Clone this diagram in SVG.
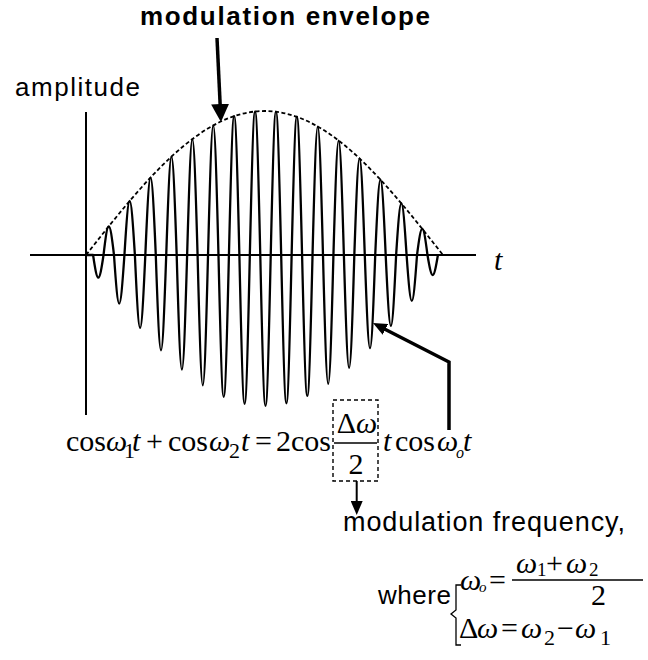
<svg xmlns="http://www.w3.org/2000/svg" width="648" height="660" viewBox="0 0 648 660">
<style>
.ax{stroke:#000;stroke-width:2;fill:none}
.wave{stroke:#000;stroke-width:2.3;fill:none;stroke-linejoin:round}
.env{stroke:#000;stroke-width:1.8;stroke-dasharray:4 2.5;fill:none}
.arr{stroke:#000;fill:none;stroke-linejoin:miter}
.box{stroke:#000;stroke-width:1.4;stroke-dasharray:4 3;fill:none}
.thin{stroke:#000;stroke-width:1.3;fill:none}
.sans{font-family:"Liberation Sans",Arial,sans-serif;fill:#000}
.serif{font-family:"Liberation Serif","Times New Roman",serif;font-size:30px;fill:#000}
.it{font-style:italic}
.sub{font-size:22px}
</style>
<defs>
<marker id="headL" markerUnits="userSpaceOnUse" markerWidth="18" markerHeight="18" refX="8" refY="9" orient="auto"><path d="M0,0 L18,9 L0,18 z" fill="#000"/></marker>
<marker id="headS" markerUnits="userSpaceOnUse" markerWidth="14" markerHeight="12" refX="6" refY="6" orient="auto"><path d="M0,0 L14,6 L0,12 z" fill="#000"/></marker>
</defs>
<rect width="648" height="660" fill="#fff"/>
<g id="axes">
<line class="ax" x1="30" y1="255" x2="476" y2="255"/>
<line class="ax" x1="86" y1="112" x2="86" y2="415"/>
</g>
<g id="waveform">
<path class="wave" d="M86,255 L93.08,255 c4.43,30.1 6.02,30.1 10.45,0 c4.43,-38.1 6.02,-38.1 10.45,0 c4.43,64.7 6.02,64.7 10.45,0 c4.43,-72 6.02,-72 10.45,0 c4.43,97.3 6.02,97.3 10.45,0 c4.43,-103.3 6.02,-103.3 10.45,0 c4.43,127.1 6.02,127.1 10.45,0 c4.43,-131.2 6.02,-131.2 10.45,0 c4.43,152.8 6.02,152.8 10.45,0 c4.43,-154.5 6.02,-154.5 10.45,0 c4.43,173.7 6.02,173.7 10.45,0 c4.43,-172.8 6.02,-172.8 10.45,0 c4.43,189.1 6.02,189.1 10.45,0 c4.43,-185.2 6.02,-185.2 10.45,0 c4.43,198.4 6.02,198.4 10.45,0 c4.43,-191.3 6.02,-191.3 10.45,0 c4.43,201.3 6.02,201.3 10.45,0 c4.43,-191.1 6.02,-191.1 10.45,0 c4.43,197.7 6.02,197.7 10.45,0 c4.43,-184.3 6.02,-184.3 10.45,0 c4.43,187.9 6.02,187.9 10.45,0 c4.43,-171.2 6.02,-171.2 10.45,0 c4.43,171.9 6.02,171.9 10.45,0 c4.43,-152.5 6.02,-152.5 10.45,0 c4.43,150.4 6.02,150.4 10.45,0 c4.43,-128.7 6.02,-128.7 10.45,0 c4.43,124.3 6.02,124.3 10.45,0 c4.43,-100.4 6.02,-100.4 10.45,0 c4.43,94.4 6.02,94.4 10.45,0 c4.43,-68.9 6.02,-68.9 10.45,0 c4.43,61.3 6.02,61.3 10.45,0 c4.43,-34.8 6.02,-34.8 10.45,0 c4.43,26.7 6.02,26.7 10.45,0"/>
</g>
<g id="envelope">
<path class="env" d="M86,255 C144.2,181.2 199.9,111 264.5,111 C329.1,111 384.8,181.2 443,255"/>
</g>
<g id="title">
<text class="sans" x="140" y="25" font-size="26" font-weight="bold" textLength="290" lengthAdjust="spacing">modulation envelope</text>
</g>
<g id="amplitude-label">
<text class="sans" x="15" y="96" font-size="26" textLength="125" lengthAdjust="spacing">amplitude</text>
</g>
<g id="t-label">
<text class="serif it" x="494" y="270" font-size="32">t</text>
</g>
<g id="formula">
<text class="serif" y="451"><tspan x="66">cos</tspan><tspan class="it" x="106">ω</tspan><tspan class="sub" x="124" dy="7">1</tspan><tspan class="it" x="132" dy="-7">t</tspan><tspan x="146">+</tspan><tspan x="168">cos</tspan><tspan class="it" x="209">ω</tspan><tspan class="sub" x="229" dy="7">2</tspan><tspan class="it" x="241" dy="-7">t</tspan><tspan x="255">=</tspan><tspan x="276">2cos</tspan><tspan class="it" x="383">t</tspan><tspan x="395">cos</tspan><tspan class="it" x="437">ω</tspan><tspan class="it" font-size="16" x="456" dy="7">o</tspan><tspan class="it" x="463" dy="-7">t</tspan></text>
<text class="serif" x="357" y="433" text-anchor="middle">Δ<tspan class="it">ω</tspan></text>
<line class="thin" x1="334" y1="443" x2="377" y2="443"/>
<text class="serif" x="356" y="474" text-anchor="middle">2</text>
<rect class="box" x="333" y="400" width="45" height="81"/>
</g>
<g id="mod-freq">
<text class="sans" x="343" y="531" font-size="27" textLength="282" lengthAdjust="spacing">modulation frequency,</text>
</g>
<g id="where">
<text class="sans" x="378" y="604" font-size="26" textLength="73" lengthAdjust="spacing">where</text>
<path class="thin" d="M461,585 L456,585 L456,610 L451,614 L456,618 L456,645 L461,645"/>
<text class="serif"><tspan class="it" x="460" y="590">ω</tspan><tspan class="it" font-size="15" x="479" y="592">o</tspan><tspan x="489" y="590">=</tspan></text>
<text class="serif"><tspan class="it" x="516" y="573">ω</tspan><tspan font-size="19" x="537" y="576">1</tspan><tspan x="546" y="573">+</tspan><tspan class="it" x="566" y="573">ω</tspan><tspan font-size="19" x="589" y="576">2</tspan></text>
<line class="thin" x1="512" y1="580" x2="643" y2="580"/>
<text class="serif" x="591" y="605">2</text>
<text class="serif" y="638"><tspan x="459">Δ</tspan><tspan class="it" x="477">ω</tspan><tspan x="501">=</tspan><tspan class="it" x="521">ω</tspan><tspan class="sub" x="544" dy="7">2</tspan><tspan x="557" dy="-7">−</tspan><tspan class="it" x="575">ω</tspan><tspan class="sub" x="600" dy="7">1</tspan></text>
</g>
<g id="connectors">
<line class="arr" stroke-width="3.5" x1="217" y1="38" x2="220.5" y2="112" marker-end="url(#headL)"/>
<polyline class="arr" stroke-width="3.5" points="449,430 449,362 380.1,326.7" marker-end="url(#headS)"/>
<line class="arr" stroke-width="2" x1="356.7" y1="481" x2="356.7" y2="507" marker-end="url(#headS)"/>
</g>
</svg>
